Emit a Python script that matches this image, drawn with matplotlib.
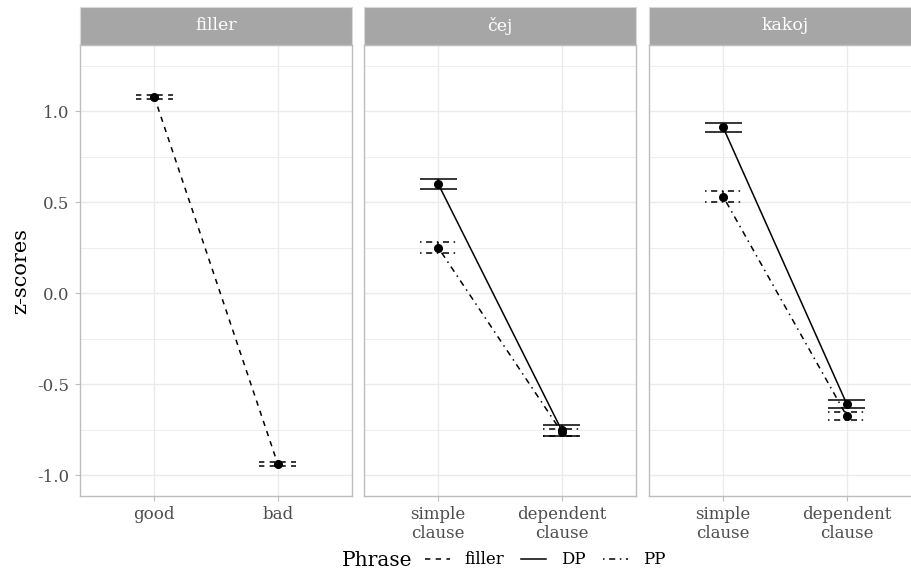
import numpy as np
import matplotlib.pyplot as plt
from matplotlib.lines import Line2D
from matplotlib.patches import Rectangle
from matplotlib.ticker import MultipleLocator

plt.rcParams['font.family'] = ['DejaVu Serif']

# filler panel
filler_labels = ['good', 'bad']
filler_mean = [1.08, -0.94]
filler_se = [0.011, 0.011]

# čej / kakoj panels
clause_labels = ['simple\nclause', 'dependent\nclause']
cej_dp = [0.60, -0.755]
cej_dp_se = [0.026, 0.030]
cej_pp = [0.25, -0.765]
cej_pp_se = [0.032, 0.020]
kakoj_dp = [0.91, -0.61]
kakoj_dp_se = [0.024, 0.023]
kakoj_pp = [0.53, -0.676]
kakoj_pp_se = [0.030, 0.023]

styles = {'filler': (0, (3.5, 3.5)), 'DP': '-', 'PP': (0, (1, 3, 4, 3))}

panels = [
    ('filler', filler_labels, [('filler', filler_mean, filler_se)]),
    ('čej', clause_labels, [('DP', cej_dp, cej_dp_se), ('PP', cej_pp, cej_pp_se)]),
    ('kakoj', clause_labels, [('DP', kakoj_dp, kakoj_dp_se), ('PP', kakoj_pp, kakoj_pp_se)]),
]

W, H = 912, 571
fig = plt.figure(figsize=(W / 100, H / 100), dpi=100)

lefts = [80, 364, 649]
pw = 272
top, bottom = 45, 496
strip_top = 7
lw = 1.1

for i, (name, labels, series) in enumerate(panels):
    ax = fig.add_axes([lefts[i] / W, (H - bottom) / H, pw / W, (bottom - top) / H])
    x = np.arange(1, len(labels) + 1)
    for phrase, m, se in series:
        ls = styles[phrase]
        m = np.array(m)
        se = np.array(se)
        ax.plot(x, m, color='black', lw=lw, ls=ls, zorder=3)
        ax.hlines(m + se, x - 0.15, x + 0.15, color='black', lw=lw, linestyles=[ls], zorder=3)
        ax.hlines(m - se, x - 0.15, x + 0.15, color='black', lw=lw, linestyles=[ls], zorder=3)
        ax.vlines(x, m - se, m + se, color='black', lw=lw, linestyles=[ls], zorder=3)
        ax.plot(x, m, 'o', color='black', ms=5.5, zorder=4)
    ax.set_xlim(0.4, len(labels) + 0.6)
    ax.set_ylim(-1.115, 1.363)
    ax.set_xticks(x)
    ax.set_xticklabels(labels, fontsize=12, color='#4D4D4D', linespacing=1.1)
    ax.yaxis.set_major_locator(MultipleLocator(0.5))
    ax.yaxis.set_minor_locator(MultipleLocator(0.25))
    ax.grid(True, which='major', color='#EBEBEB', lw=1.0, zorder=0)
    ax.grid(True, which='minor', axis='y', color='#EBEBEB', lw=0.6, zorder=0)
    ax.tick_params(axis='both', which='major', length=3.5, color='#BDBDBD', width=0.8, pad=4)
    ax.tick_params(axis='y', which='minor', length=0)
    if i == 0:
        ax.set_yticklabels([f'{v:.1f}' for v in ax.get_yticks()], fontsize=12, color='#4D4D4D')
        ax.set_ylabel('z-scores', fontsize=15, labelpad=5)
    else:
        ax.tick_params(axis='y', which='both', left=False, labelleft=False)
    for s in ax.spines.values():
        s.set_color('#BDBDBD')
        s.set_linewidth(1.0)
    ax.set_axisbelow(True)
    # strip
    sh = (top - strip_top) / (bottom - top)
    ax.add_patch(Rectangle((0, 1), 1, sh, transform=ax.transAxes, clip_on=False,
                           facecolor='#A6A6A6', edgecolor='#D9D9D9', lw=0.8))
    ax.text(0.5, 1 + sh / 2, name, transform=ax.transAxes, ha='center', va='center',
            fontsize=12.5, color='white')

handles = [Line2D([], [], color='black', lw=lw, ls=styles[k]) for k in ['filler', 'DP', 'PP']]
fig.legend(handles, ['filler', 'DP', 'PP'], loc='center', bbox_to_anchor=(545 / W, 11 / H),
           ncol=3, frameon=False, fontsize=12, handlelength=1.5, handletextpad=0.9,
           columnspacing=1.0, borderpad=0)
fig.text(377 / W, 11 / H, 'Phrase', ha='center', va='center', fontsize=14.5)

fig.savefig('out.png', dpi=100)
